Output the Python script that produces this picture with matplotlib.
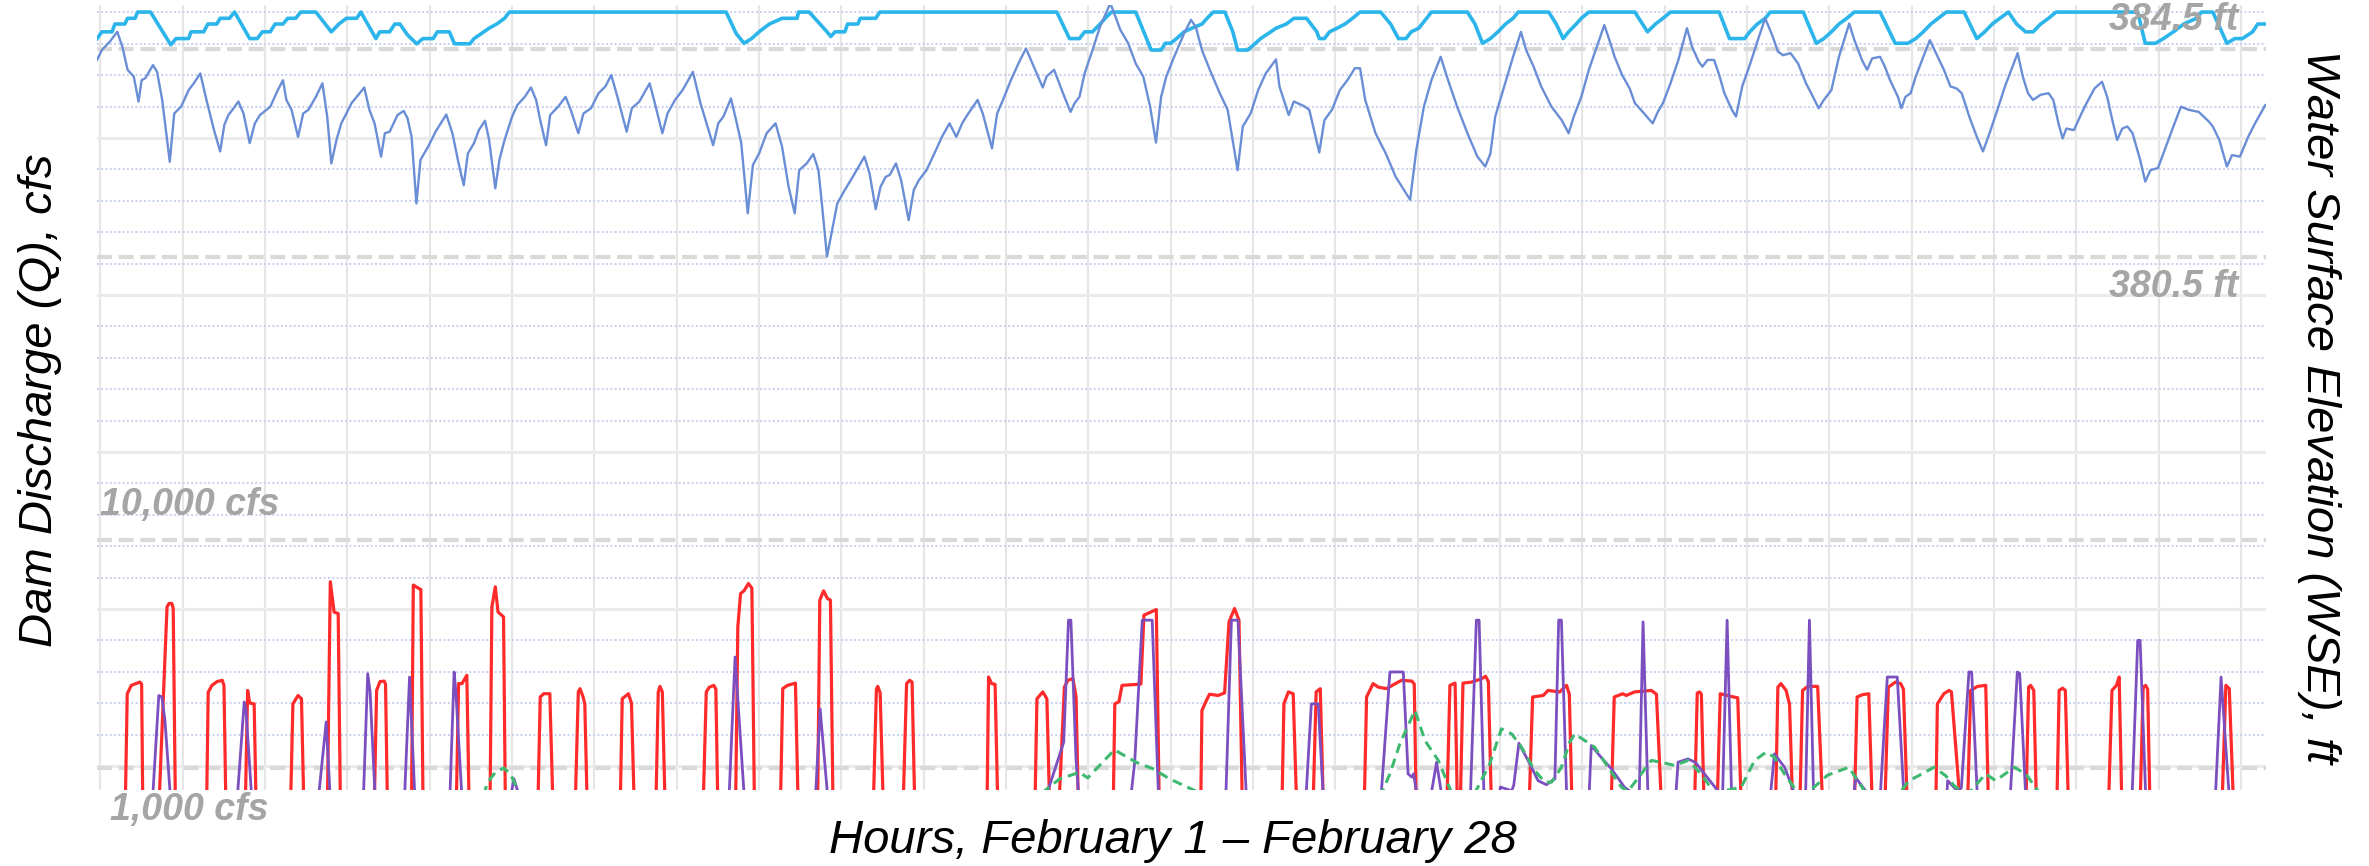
import matplotlib
matplotlib.use("Agg")
import matplotlib.pyplot as plt
import numpy as np

# x = hours from Feb 1 00:00
# --- dam discharge, cfs (left axis) ---
unit_red = [
    (7.3, 0), (7.8, 3920), (9.0, 4250), (11.5, 4380), (12.0, 4300), (12.3, 0),
    (17.2, 0), (19.4, 7350), (20.0, 7490), (20.8, 7490), (21.2, 7300), (21.8, 0),
    (31.0, 0), (31.4, 3980), (32.5, 4250), (34.0, 4400), (35.5, 4450), (36.0, 4250), (36.5, 0),
    (42.3, 0), (42.9, 4050), (43.5, 3550), (44.8, 3520), (45.3, 0),
    (55.5, 0), (56.1, 3520), (57.6, 3850), (58.6, 3720), (59.2, 0),
    (66.2, 0), (67.0, 8350), (67.5, 7800), (68.1, 7150), (69.3, 7090), (69.9, 0),
    (79.9, 0), (80.5, 4050), (81.5, 4400), (82.7, 4420), (83.1, 4300), (83.6, 0),
    (90.7, 0), (91.2, 8220), (92.6, 8100), (93.4, 8040), (94.0, 0),
    (103.8, 0), (104.4, 4320), (105.4, 4320), (106.8, 4650), (107.4, 0),
    (113.6, 0), (114.1, 7350), (115.1, 8150), (115.9, 7150), (117.5, 6960), (118.0, 0),
    (127.6, 0), (128.2, 3790), (129.2, 3920), (131.0, 3920), (131.8, 0),
    (138.5, 0), (139.3, 4000), (139.8, 4120), (140.8, 3750), (141.2, 3500), (141.8, 0),
    (151.6, 0), (152.1, 3720), (153.9, 3920), (154.8, 3550), (155.5, 0),
    (162.0, 0), (162.6, 3980), (163.1, 4210), (163.8, 3990), (164.5, 0),
    (175.8, 0), (176.6, 3990), (177.5, 4180), (178.8, 4250), (179.4, 4100), (179.9, 0),
    (185.2, 0), (185.8, 6560), (186.6, 7880), (187.6, 7990), (188.9, 8280), (189.9, 8100), (190.6, 0),
    (198.3, 0), (198.9, 4120), (200.3, 4250), (202.6, 4340), (203.3, 0),
    (209.1, 0), (209.7, 7620), (210.8, 7990), (211.9, 7690), (212.8, 7620), (213.5, 0),
    (225.4, 0), (226.2, 4100), (226.6, 4210), (227.3, 3950), (228.1, 0),
    (234.1, 0), (235.0, 4320), (235.9, 4450), (236.6, 4380), (237.3, 0),
    (258.5, 0), (258.9, 4580), (259.8, 4320), (260.8, 4290), (261.5, 0),
    (272.5, 0), (273.0, 3720), (274.7, 3990), (275.9, 3720), (276.6, 0),
    (279.6, 0), (281.0, 4180), (282.0, 4450), (283.5, 4520), (284.4, 3800), (285.0, 0),
    (295.3, 0), (295.7, 3520), (296.9, 3600), (297.8, 4250), (303.3, 4300), (304.2, 7030),
    (305.4, 7100), (307.8, 7250), (308.6, 0),
    (320.8, 0), (321.1, 3260), (322.4, 3650), (323.3, 3900), (325.8, 3850), (327.7, 3950),
    (329.0, 6760), (330.6, 7290), (331.9, 6830), (332.8, 0),
    (344.5, 0), (345.0, 3520), (346.3, 3990), (347.7, 3920), (348.6, 0),
    (353.6, 0), (354.4, 3990), (355.6, 4120), (356.4, 0),
    (368.5, 0), (369.1, 3790), (371.0, 4320), (372.5, 4180), (374.9, 4120), (377.5, 4320),
    (379.3, 4450), (382.3, 4420), (383.0, 4300), (383.5, 0),
    (392.6, 0), (393.4, 4250), (394.9, 4340), (395.5, 0),
    (396.5, 0), (397.2, 4340), (399.7, 4380), (402.6, 4510), (403.8, 4610), (404.6, 4400), (405.4, 0),
    (416.6, 0), (417.5, 3790), (420.6, 3850), (422.0, 4050), (425.4, 3990), (427.4, 4250), (428.2, 3900), (428.9, 0),
    (440.5, 0), (441.3, 3790), (443.8, 3920), (444.8, 3850), (447.2, 3990), (452.1, 4050), (453.6, 3900), (454.9, 0),
    (464.8, 0), (465.5, 3950), (466.2, 3990), (466.7, 3900), (467.4, 0),
    (471.4, 0), (472.2, 3920), (475.4, 3810), (477.3, 3760), (478.2, 0),
    (488.4, 0), (489.0, 4180), (489.9, 4320), (491.4, 4050), (492.4, 3500), (493.2, 0),
    (495.5, 0), (496.2, 4050), (497.7, 4210), (500.6, 4210), (501.9, 0),
    (511.4, 0), (512.1, 3790), (513.6, 3880), (515.5, 3920), (516.4, 0),
    (520.3, 0), (521.2, 4180), (523.3, 4380), (524.8, 4320), (525.6, 4100), (526.6, 0),
    (535.1, 0), (535.5, 3520), (537.4, 3920), (538.9, 4050), (539.6, 3990), (541.9, 0),
    (544.4, 0), (545.2, 4050), (547.2, 4210), (549.6, 4250), (550.3, 0),
    (561.4, 0), (562.1, 4180), (562.7, 4250), (563.6, 4050), (564.3, 0),
    (570.4, 0), (571.0, 4050), (572.0, 4140), (572.8, 4050), (573.6, 0),
    (585.5, 0), (586.4, 4050), (587.7, 4250), (588.5, 4580), (589.2, 0),
    (594.7, 0), (595.5, 4180), (596.2, 4250), (596.8, 4100), (597.4, 0),
    (618.6, 0), (619.6, 4250), (620.6, 4120), (621.7, 0),
]

unit_purple = [
    (15.3, 0), (17.0, 3850), (17.9, 3790), (18.8, 2860), (20.3, 0),
    (40.0, 0), (41.9, 3590), (42.4, 3300), (44.0, 0),
    (63.7, 0), (65.8, 2800), (66.9, 0),
    (76.7, 0), (77.9, 4710), (78.6, 4000), (80.0, 0),
    (88.7, 0), (90.1, 4580), (91.6, 0),
    (101.9, 0), (103.1, 4780), (103.6, 4000), (105.3, 0),
    (119.8, 0), (120.5, 560), (121.8, 0),
    (183.3, 0), (185.0, 5370), (187.6, 0),
    (208.5, 0), (209.8, 3320), (211.9, 0),
    (276.0, 0), (280.8, 2000), (282.2, 6830), (282.9, 6830), (284.4, 1300), (285.1, 0),
    (300.5, 0), (301.5, 1200), (303.7, 6830), (306.6, 6830), (308.4, 0),
    (328.1, 0), (329.7, 6830), (331.6, 6830), (334.0, 0),
    (351.5, 0), (353.0, 3520), (355.0, 3520), (356.4, 0),
    (373.4, 0), (375.9, 4780), (379.8, 4780), (381.2, 750), (382.3, 620), (382.8, 750), (383.7, 0),
    (388.0, 0), (389.5, 1210), (390.9, 0),
    (399.4, 0), (401.1, 6830), (401.9, 6830), (403.3, 0),
    (407.9, 0), (408.1, 230), (411.4, 80), (412.0, 300), (413.5, 1960), (416.2, 1270),
    (419.1, 480), (421.5, 320), (424.0, 550), (425.1, 6830), (425.9, 6830), (427.4, 0),
    (434.0, 0), (434.6, 1870), (437.5, 1400), (440.5, 940), (444.3, 220), (446.5, 0),
    (448.6, 0), (449.7, 6760), (451.1, 0),
    (459.3, 0), (459.9, 1210), (462.8, 1340), (465.0, 1200), (467.6, 750), (470.5, 250), (472.0, 0),
    (472.9, 0), (474.2, 6830), (475.5, 0),
    (486.9, 0), (488.0, 1540), (491.0, 1000), (493.8, 0),
    (497.1, 0), (498.2, 6830), (499.4, 0),
    (511.2, 0), (511.7, 600), (515.0, 0),
    (518.9, 0), (520.9, 4580), (523.8, 4580), (525.7, 0),
    (538.3, 0), (538.5, 480), (541.5, 50), (542.5, 200), (544.7, 4780), (545.5, 4780), (547.1, 0),
    (556.8, 0), (558.8, 4780), (559.5, 4720), (561.2, 0),
    (592.3, 0), (593.9, 6030), (594.6, 6030), (596.2, 0),
    (616.6, 0), (618.2, 4580), (620.5, 0),
]

inflow_green = [
    (0, 0), (112.0, 0), (112.7, 380), (115.1, 810), (117.6, 980), (119.5, 750), (122.0, 0),
    (274.5, 0), (279.6, 550), (285.4, 810), (287.8, 590), (295.6, 1700), (301.9, 1210),
    (306.8, 950), (311.7, 550), (320.4, 0),
    (373.5, 0), (375.9, 750), (378.8, 1940), (383.2, 3260), (386.1, 2070), (390.0, 1280), (393.9, 0),
    (400.7, 0), (405.0, 1140), (408.4, 2530), (411.4, 2330), (414.3, 1800), (418.1, 880),
    (421.1, 420), (423.0, 420), (425.9, 1010), (428.3, 2000), (429.8, 2330), (432.7, 2070),
    (435.6, 1800), (439.5, 1010), (443.4, 220), (445.3, 60), (449.2, 750), (452.1, 1280),
    (455.0, 1210), (458.9, 1080), (462.8, 1280), (466.6, 750), (470.5, 0),
    (478.3, 220), (482.2, 1280), (485.6, 1610), (488.0, 1410), (490.9, 750), (494.8, 0),
    (497.7, 0), (503.5, 700), (509.7, 1010), (514.6, 0),
    (524.5, 0), (527.2, 480), (530.1, 680), (534.5, 1010), (537.9, 680), (540.8, 220), (544.7, 0),
    (549.6, 750), (552.5, 480), (557.9, 1010), (561.3, 750), (565.2, 0), (631.0, 0),
]

# --- water surface elevation, ft (right axis) ---
wse_cyan = [
    (-1.0, 384.70), (0.4, 384.83), (3.4, 384.83), (4.2, 384.98), (7.1, 384.98), (7.9, 385.09),
    (10.1, 385.09), (10.8, 385.21), (14.6, 385.21), (20.5, 384.58), (22.0, 384.70), (25.7, 384.70),
    (26.4, 384.83), (30.1, 384.83), (31.3, 384.98), (33.9, 384.98), (34.9, 385.09), (37.6, 385.09),
    (39.1, 385.21), (43.5, 384.70), (45.7, 384.70), (47.2, 384.83), (49.5, 384.83), (50.9, 384.98),
    (53.2, 384.98), (54.6, 385.09), (56.9, 385.09), (58.4, 385.21), (62.8, 385.21), (67.3, 384.83),
    (69.5, 384.98), (71.7, 385.09), (74.7, 385.09), (75.9, 385.21), (80.3, 384.70), (81.4, 384.83),
    (84.3, 384.83), (85.8, 384.98), (87.3, 384.98), (89.5, 384.77), (92.2, 384.60), (94.0, 384.70),
    (97.0, 384.70), (98.2, 384.83), (101.7, 384.83), (103.2, 384.60), (107.7, 384.60), (108.9, 384.70),
    (111.1, 384.80), (113.3, 384.90), (115.5, 384.98), (117.8, 385.09), (119.2, 385.21), (182.4, 385.21),
    (185.3, 384.80), (187.6, 384.61), (189.8, 384.70), (192.0, 384.83), (195.0, 384.98), (198.7, 385.09),
    (203.1, 385.09), (203.5, 385.21), (206.6, 385.21), (209.6, 384.99), (211.8, 384.83), (212.9, 384.74),
    (214.1, 384.83), (217.0, 384.83), (217.8, 384.98), (220.8, 384.98), (221.5, 385.09), (226.0, 385.09),
    (227.2, 385.21), (278.8, 385.21), (282.5, 384.70), (285.4, 384.70), (286.9, 384.83), (289.2, 384.83),
    (291.4, 384.98), (292.9, 385.09), (294.7, 385.21), (301.8, 385.21), (306.3, 384.48), (309.2, 384.48),
    (310.4, 384.61), (312.0, 384.61), (313.7, 384.70), (315.9, 384.83), (318.2, 384.90), (321.1, 384.98),
    (322.6, 385.09), (324.4, 385.21), (327.8, 385.21), (330.1, 384.83), (331.5, 384.48), (334.5, 384.48),
    (336.7, 384.61), (338.2, 384.70), (340.5, 384.80), (342.7, 384.90), (345.7, 384.98), (347.9, 385.09),
    (351.6, 385.09), (354.6, 384.83), (355.3, 384.70), (356.8, 384.70), (358.3, 384.83), (360.5, 384.90),
    (362.8, 384.98), (365.0, 385.09), (367.2, 385.21), (373.2, 385.21), (376.1, 384.98), (378.4, 384.70),
    (380.6, 384.70), (382.1, 384.83), (384.3, 384.90), (386.6, 385.09), (388.0, 385.21), (398.5, 385.21),
    (400.7, 384.98), (402.9, 384.61), (405.2, 384.70), (407.4, 384.83), (409.6, 384.98), (411.8, 385.09),
    (413.3, 385.21), (422.2, 385.21), (424.4, 384.98), (426.4, 384.70), (428.0, 384.83), (430.2, 384.98),
    (431.7, 385.09), (433.9, 385.21), (447.3, 385.21), (451.0, 384.83), (453.3, 384.98), (455.5, 385.09),
    (457.7, 385.21), (471.9, 385.21), (474.9, 384.70), (479.3, 384.70), (480.8, 384.83), (483.0, 384.98),
    (485.3, 385.09), (486.8, 385.21), (496.4, 385.21), (500.2, 384.61), (502.4, 384.70), (504.6, 384.83),
    (506.8, 384.98), (509.1, 385.09), (511.3, 385.21), (518.8, 385.21), (523.2, 384.61), (526.9, 384.61),
    (529.2, 384.70), (531.4, 384.83), (533.6, 384.98), (538.1, 385.21), (543.3, 385.21), (547.0, 384.70),
    (549.3, 384.83), (551.5, 384.98), (553.7, 385.09), (556.2, 385.21), (558.6, 384.98), (561.2, 384.83),
    (563.4, 384.83), (565.6, 384.98), (567.9, 385.09), (570.1, 385.21), (593.9, 385.21), (596.1, 384.61),
    (599.1, 384.61), (601.4, 384.70), (604.3, 384.83), (607.3, 384.98), (611.0, 385.09), (612.5, 385.21),
    (615.8, 385.21), (619.9, 384.61), (622.2, 384.70), (624.4, 384.70), (627.4, 384.83), (628.9, 384.98),
    (631.1, 384.98),
]

wse_blue = [
    (-1.0, 384.29), (0.4, 384.48), (2.7, 384.64), (4.9, 384.83), (6.4, 384.54), (7.9, 384.10),
    (9.7, 383.97), (11.1, 383.49), (12.0, 383.90), (13.1, 383.94), (15.3, 384.19), (16.5, 384.06),
    (18.0, 383.52), (20.2, 382.33), (21.5, 383.26), (23.5, 383.39), (25.7, 383.71), (27.2, 383.84),
    (29.1, 384.03), (30.9, 383.52), (33.1, 382.94), (34.9, 382.53), (36.1, 383.04), (37.3, 383.23),
    (38.8, 383.36), (40.2, 383.49), (41.7, 383.26), (43.5, 382.69), (45.0, 383.07), (46.5, 383.23),
    (49.5, 383.39), (51.7, 383.71), (53.2, 383.90), (54.2, 383.52), (55.7, 383.33), (57.6, 382.81),
    (59.1, 383.26), (60.6, 383.33), (62.8, 383.58), (64.7, 383.84), (66.1, 383.20), (67.3, 382.30),
    (68.8, 382.75), (70.2, 383.07), (71.7, 383.26), (73.2, 383.46), (74.7, 383.58), (76.9, 383.76),
    (78.4, 383.33), (79.9, 383.07), (81.8, 382.43), (82.9, 382.88), (84.3, 382.91), (86.6, 383.23),
    (88.4, 383.31), (89.5, 383.17), (90.7, 382.81), (92.1, 381.53), (93.3, 382.37), (95.5, 382.62),
    (97.7, 382.91), (99.2, 383.07), (100.8, 383.24), (102.6, 382.88), (104.4, 382.30), (105.9, 381.88),
    (107.1, 382.49), (108.9, 382.69), (110.3, 382.94), (112.1, 383.12), (113.3, 382.75), (115.1, 381.82),
    (116.3, 382.37), (117.8, 382.75), (120.0, 383.20), (121.5, 383.42), (123.7, 383.58), (125.5, 383.76),
    (127.0, 383.52), (128.2, 383.13), (129.9, 382.65), (131.1, 383.23), (133.4, 383.39), (135.6, 383.58),
    (137.1, 383.33), (139.3, 382.88), (140.8, 383.26), (143.0, 383.36), (145.2, 383.65), (147.2, 383.78),
    (148.9, 384.00), (150.7, 383.58), (153.4, 382.91), (154.9, 383.36), (157.1, 383.49), (160.1, 383.84),
    (161.6, 383.46), (163.8, 382.88), (165.3, 383.26), (167.5, 383.52), (169.7, 383.71), (172.7, 384.06),
    (174.9, 383.46), (178.6, 382.65), (180.1, 383.07), (181.6, 383.20), (183.8, 383.55), (185.3, 383.13),
    (186.8, 382.69), (188.7, 381.34), (190.2, 382.27), (192.0, 382.49), (194.2, 382.88), (196.8, 383.07),
    (198.7, 382.62), (200.6, 381.85), (202.4, 381.34), (203.7, 382.17), (205.9, 382.30), (207.8, 382.48),
    (209.3, 382.17), (210.3, 381.53), (211.8, 380.51), (213.3, 381.02), (214.8, 381.53), (217.0, 381.79),
    (219.3, 382.04), (220.8, 382.21), (222.7, 382.43), (224.2, 382.11), (226.0, 381.42), (227.4, 381.85),
    (228.9, 382.04), (230.1, 382.08), (231.9, 382.30), (233.4, 381.98), (235.6, 381.21), (237.1, 381.79),
    (238.6, 381.98), (240.8, 382.17), (243.1, 382.49), (245.3, 382.81), (247.5, 383.07), (249.5, 382.81),
    (251.2, 383.07), (252.7, 383.23), (255.7, 383.52), (257.2, 383.26), (259.9, 382.59), (261.4, 383.26),
    (263.1, 383.52), (265.4, 383.90), (267.6, 384.22), (269.8, 384.51), (272.1, 384.16), (274.7, 383.76),
    (275.8, 383.97), (278.0, 384.10), (279.5, 383.84), (281.0, 383.58), (282.8, 383.29), (284.0, 383.46),
    (285.4, 383.58), (286.9, 384.03), (289.2, 384.48), (291.4, 384.93), (294.4, 385.38), (295.9, 385.12),
    (297.3, 384.87), (299.6, 384.61), (301.8, 384.22), (304.0, 383.97), (306.0, 383.39), (307.7, 382.70),
    (309.2, 383.58), (310.7, 383.97), (313.0, 384.35), (315.9, 384.80), (317.9, 385.06), (319.3, 384.93),
    (321.1, 384.48), (323.4, 384.10), (326.3, 383.65), (328.6, 383.33), (331.5, 382.17), (333.0, 383.01),
    (335.3, 383.26), (337.5, 383.71), (339.7, 384.03), (342.7, 384.30), (343.7, 383.78), (346.4, 383.23),
    (347.9, 383.49), (350.9, 383.40), (352.4, 383.33), (355.3, 382.51), (356.8, 383.13), (359.0, 383.33),
    (361.3, 383.71), (363.5, 383.90), (365.7, 384.13), (367.2, 384.13), (368.7, 383.52), (371.7, 382.88),
    (374.7, 382.49), (377.6, 382.04), (381.8, 381.60), (383.6, 382.56), (385.8, 383.39), (388.0, 383.90),
    (390.7, 384.35), (392.5, 383.97), (395.5, 383.39), (398.5, 382.88), (401.4, 382.43), (403.7, 382.24),
    (405.2, 382.49), (406.6, 383.20), (408.9, 383.71), (411.8, 384.35), (414.1, 384.83), (415.6, 384.48),
    (417.8, 384.16), (420.0, 383.78), (423.0, 383.39), (426.0, 383.13), (428.0, 382.88), (429.5, 383.20),
    (431.7, 383.58), (433.9, 384.10), (436.2, 384.54), (438.4, 384.96), (439.9, 384.67), (441.4, 384.35),
    (443.6, 384.00), (445.8, 383.74), (447.3, 383.46), (449.6, 383.29), (452.5, 383.07), (454.0, 383.29),
    (455.5, 383.46), (457.7, 383.84), (460.0, 384.29), (462.5, 384.90), (464.0, 384.54), (465.9, 384.26),
    (467.0, 384.16), (468.5, 384.29), (470.4, 384.29), (471.9, 384.00), (473.4, 383.65), (475.6, 383.33),
    (476.8, 383.20), (478.6, 383.78), (480.8, 384.19), (483.0, 384.64), (485.3, 385.09), (487.5, 384.74),
    (489.0, 384.45), (490.5, 384.38), (492.7, 384.42), (494.9, 384.22), (497.2, 383.84), (498.7, 383.65),
    (500.9, 383.36), (502.4, 383.52), (504.6, 383.71), (506.8, 384.35), (509.8, 384.99), (511.3, 384.67),
    (513.5, 384.29), (515.0, 384.10), (516.5, 384.32), (518.8, 384.35), (520.2, 384.16), (521.7, 383.90),
    (524.0, 383.58), (525.0, 383.36), (526.2, 383.58), (527.7, 383.65), (529.2, 383.97), (531.4, 384.35),
    (533.3, 384.67), (535.1, 384.42), (537.4, 384.10), (539.3, 383.78), (541.1, 383.74), (542.6, 383.65),
    (544.8, 383.20), (547.0, 382.81), (548.8, 382.53), (550.7, 382.88), (553.0, 383.33), (555.2, 383.78),
    (557.4, 384.16), (558.9, 384.42), (560.4, 383.97), (561.9, 383.65), (563.4, 383.52), (565.6, 383.62),
    (567.9, 383.65), (569.3, 383.52), (570.8, 383.07), (572.0, 382.78), (573.1, 382.97), (575.3, 382.94),
    (577.5, 383.26), (579.0, 383.46), (581.3, 383.74), (583.5, 383.87), (585.0, 383.58), (586.5, 383.13),
    (587.9, 382.75), (589.4, 382.97), (590.9, 383.01), (592.4, 382.88), (594.6, 382.37), (596.1, 381.95),
    (597.6, 382.17), (599.8, 382.21), (602.1, 382.62), (604.3, 383.01), (606.5, 383.39), (608.8, 383.33),
    (611.7, 383.29), (614.7, 383.10), (615.8, 383.01), (617.7, 382.75), (619.9, 382.24), (621.4, 382.46),
    (623.7, 382.43), (626.1, 382.81), (628.1, 383.07), (631.1, 383.42),
]

ref_cfs = [1000, 10000]
ref_cfs_labels = ["1,000 cfs", "10,000 cfs"]
ref_ft = [380.5, 384.5]
ref_ft_labels = ["380.5 ft", "384.5 ft"]

# ---------------------------------------------------------------
W, H = 2369, 866
L, R, T, B = 96.7, 2266, 5, 790   # plot area in pixels

fig = plt.figure(figsize=(W / 100, H / 100), dpi=100)
ax = fig.add_axes([L / W, 1 - B / H, (R - L) / W, (B - T) / H])
ax2 = ax.twinx()

ax.set_xlim(-1.1, 631.3)
ax.set_ylim(111, 31165)
ax2.set_ylim(370.25, 385.346)

# grid: daily vertical lines, 25 evenly spaced horizontals (every 5th solid)
ax.set_xticks(np.arange(0, 625, 24))
lo, hi = ax.get_ylim()
fr = (B - 766) / (B - T) + 0.04 * np.arange(25)
ax.set_yticks(lo + fr[::5] * (hi - lo))
ax.set_yticks(lo + np.delete(fr, np.s_[::5]) * (hi - lo), minor=True)
ax.grid(axis="x", color="#e6e6e6", lw=1.5)
ax.grid(axis="y", which="major", color="#ebebeb", lw=2.2)
ax.grid(axis="y", which="minor", color="#c7d0ef", lw=1.4, ls=(0, (1, 1.2)))
ax.set_axisbelow(True)

for a in (ax, ax2):
    for s in a.spines.values():
        s.set_visible(False)
    a.tick_params(which="both", length=0, labelleft=False, labelright=False,
                  labelbottom=False)

dash = dict(color="#d9d9d9", lw=3.0, dashes=(3.6, 1.6), zorder=1)
for v in ref_cfs:
    ax.axhline(v, **dash)
for v in ref_ft:
    ax2.axhline(v, **dash)

def xy(pairs):
    h, v = zip(*pairs)
    return list(h), list(v)

ax.plot(*xy(unit_red), color="#ff2a2a", lw=2.3, zorder=3)
ax.plot(*xy(unit_purple), color="#7b4fc0", lw=2.0, zorder=4)
ax.plot(*xy(inflow_green), color="#3fb870", lw=2.2, dashes=(3.2, 2.0), zorder=5)

ax2.plot(*xy(wse_cyan), color="#2cb5ea", lw=2.6, zorder=3)
ax2.plot(*xy(wse_blue), color="#6a8ed6", lw=1.7, zorder=4)

lab = dict(color="#a5a5a5", fontsize=27, fontweight="bold", fontstyle="italic",
           family=["Liberation Sans", "DejaVu Sans"], transform=ax.transAxes,
           clip_on=False, va="center", zorder=10)
ax2.text(0.0061, -0.0251, ref_cfs_labels[0], ha="left", **lab)
ax2.text(0.0013, 0.3631, ref_cfs_labels[1], ha="left", **lab)
ax2.text(0.9871, 0.6408, ref_ft_labels[0], ha="right", **lab)
ax2.text(0.9871, 0.9809, ref_ft_labels[1], ha="right", **lab)

title = dict(fontsize=34, fontstyle="italic", family=["Liberation Sans", "DejaVu Sans"],
             color="black")
fig.text(1172.5 / W, 1 - 853 / H, "Hours, February 1 \u2013 February 28",
         ha="center", va="baseline", **title)
fig.text(40 / W, 1 - 400 / H, "Dam Discharge (Q), cfs", rotation=90,
         ha="center", va="center", **title)
fig.text(2319 / W, 1 - 407 / H, "Water Surface Elevation (WSE), ft", rotation=270,
         ha="center", va="center", **title)

fig.savefig("out.png", dpi=100)
